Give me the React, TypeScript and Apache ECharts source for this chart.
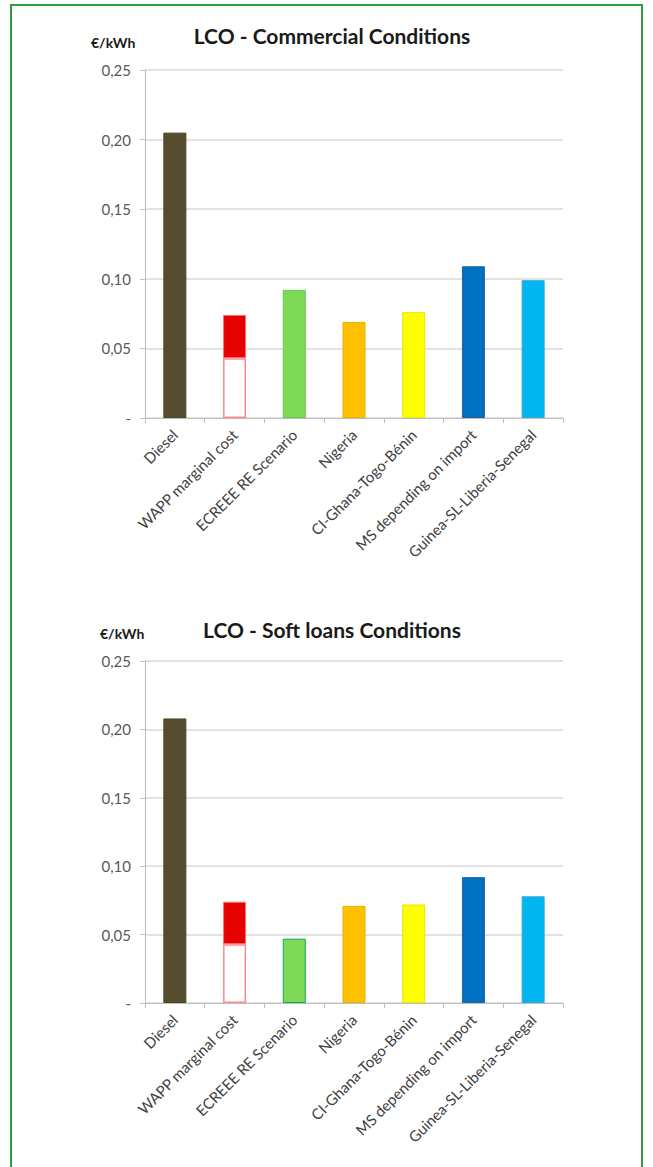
import React, { useEffect, useRef } from "react";
import * as echarts from "echarts";

const categories = [
  "Diesel",
  "WAPP marginal cost",
  "ECREEE RE Scenario",
  "Nigeria",
  "CI-Ghana-Togo-Bénin",
  "MS depending on import",
  "Guinea-SL-Liberia-Senegal",
];

const commercialValues = [0.205, 0.074, 0.092, 0.069, 0.076, 0.109, 0.099];
const commercialWappRange = [0.043, 0.074];

const softValues = [0.208, 0.074, 0.047, 0.071, 0.072, 0.092, 0.078];
const softWappRange = [0.043, 0.074];

const yTicks = [0, 0.05, 0.1, 0.15, 0.2, 0.25];

const barColors = ["#554d2d", "#e60000", "#7ed957", "#ffc000", "#ffff00", "#0070c0", "#00b6f0"];
const barBorders = ["#4a4326", "#ff7070", "#5ccc4a", "#e8b000", "#e6e600", "#1a66a8", "#33a8d8"];
const softBorders = ["#4a4326", "#ff7070", "#00b050", "#e8b000", "#e6e600", "#1a66a8", "#33a8d8"];

const titles = ["LCO - Commercial Conditions", "LCO - Soft loans Conditions"];
const unitLabel = "€/kWh";

const FONT = "Lato, 'Open Sans', sans-serif";

function fmt(v: number) {
  if (v === 0) return "-";
  return v.toFixed(2).replace(".", ",");
}

function buildSeries(values: number[], range: number[], borders: string[], idx: number) {
  const baseData = values.map((v, i) => {
    if (i === 1) {
      return {
        value: range[0],
        itemStyle: { color: "#ffffff", borderColor: "#ff8a8a", borderWidth: 1.5 },
      };
    }
    return {
      value: v,
      itemStyle: { color: barColors[i], borderColor: borders[i], borderWidth: 1 },
    };
  });
  const topData = values.map((v, i) =>
    i === 1
      ? {
          value: +(range[1] - range[0]).toFixed(3),
          itemStyle: { color: barColors[1], borderColor: "#ff7070", borderWidth: 1 },
        }
      : null
  );
  return [
    { type: "bar", xAxisIndex: idx, yAxisIndex: idx, stack: "s" + idx, barWidth: 23, data: baseData },
    { type: "bar", xAxisIndex: idx, yAxisIndex: idx, stack: "s" + idx, barWidth: 23, data: topData },
  ];
}

function xAxisCfg(idx: number) {
  return {
    type: "category",
    gridIndex: idx,
    data: categories,
    axisLine: { lineStyle: { color: "#bfbfbf", width: 1 } },
    axisTick: { show: true, length: 5, lineStyle: { color: "#bfbfbf" } },
    axisLabel: {
      rotate: 45,
      interval: 0,
      margin: 14,
      color: "#404040",
      fontSize: 15,
      fontFamily: FONT,
    },
  };
}

function yAxisCfg(idx: number) {
  return {
    type: "value",
    gridIndex: idx,
    min: 0,
    max: yTicks[yTicks.length - 1],
    interval: yTicks[1] - yTicks[0],
    axisLine: { show: true, lineStyle: { color: "#bfbfbf", width: 1 } },
    axisTick: { show: true, length: 5, lineStyle: { color: "#bfbfbf" } },
    splitLine: { show: true, lineStyle: { color: "#d9d9d9", width: 1.5 } },
    axisLabel: {
      margin: 14,
      color: "#595959",
      fontSize: 15,
      fontFamily: FONT,
      formatter: (v: number) => fmt(v),
    },
  };
}

function textEl(text: string, x: number, y: number, size: number, align: string) {
  return {
    type: "text",
    x,
    y,
    style: {
      text,
      fontSize: size,
      fontWeight: "bold",
      fontFamily: FONT,
      fill: "#1a1a1a",
      textAlign: align,
      textVerticalAlign: "middle",
    },
  };
}

export default function App() {
  const ref = useRef<HTMLDivElement>(null);
  useEffect(() => {
    if (!ref.current) return;
    const chart = echarts.init(ref.current, null, { renderer: "svg" });
    chart.setOption({
      animation: false,
      backgroundColor: "#ffffff",
      grid: [
        { left: 145, top: 70, width: 418, height: 348 },
        { left: 145, top: 661, width: 418, height: 342 },
      ],
      xAxis: [xAxisCfg(0), xAxisCfg(1)],
      yAxis: [yAxisCfg(0), yAxisCfg(1)],
      graphic: [
        {
          type: "rect",
          shape: { x: 11, y: 5, width: 631, height: 1200 },
          style: { fill: "none", stroke: "#2f9a3e", lineWidth: 2 },
          silent: true,
        },
        textEl(titles[0], 332, 35, 21, "center"),
        textEl(unitLabel, 91, 42, 14, "left"),
        textEl(titles[1], 332, 629, 21, "center"),
        textEl(unitLabel, 100, 633, 14, "left"),
      ],
      series: [
        ...buildSeries(commercialValues, commercialWappRange, barBorders, 0),
        ...buildSeries(softValues, softWappRange, softBorders, 1),
      ],
    });
    return () => chart.dispose();
  }, []);
  return (
    <div
      ref={ref}
      style={{ position: "absolute", left: 0, top: 0, width: 653, height: 1167, background: "#fff" }}
    />
  );
}
